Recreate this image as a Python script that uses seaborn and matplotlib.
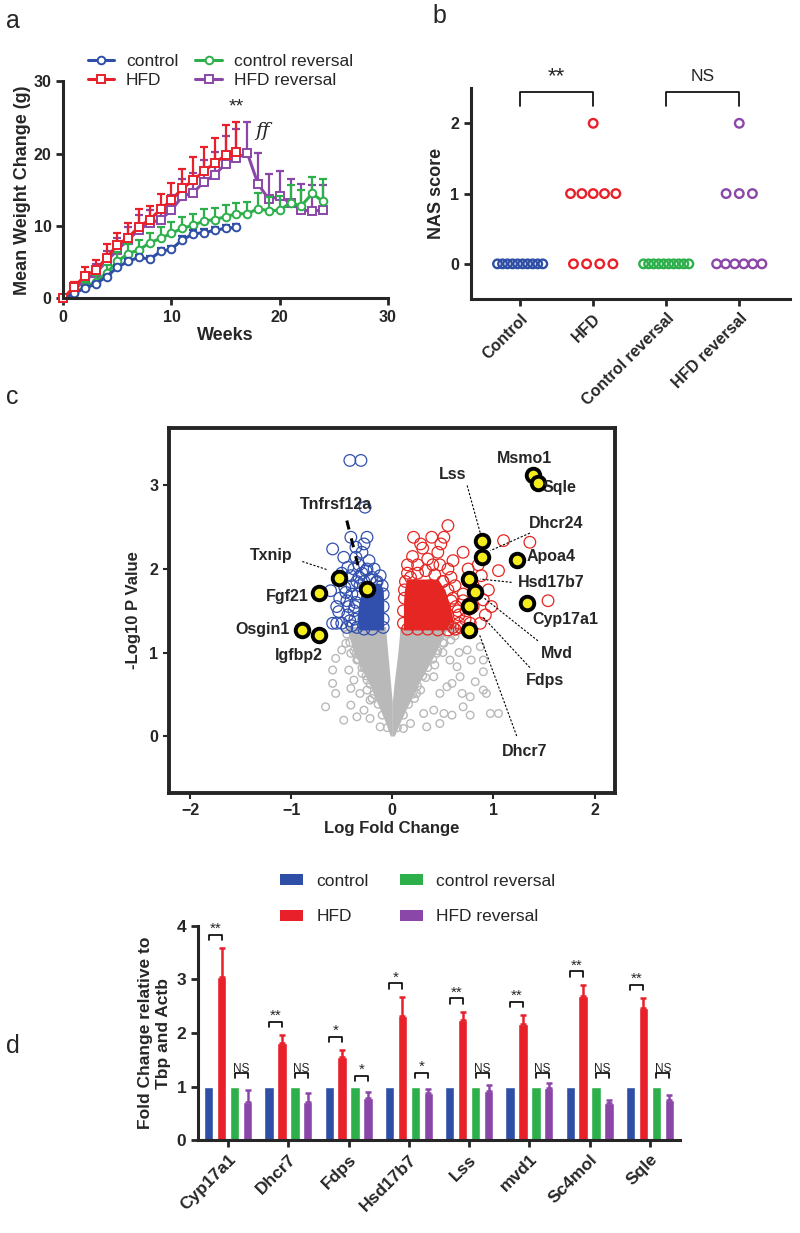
"""
Four-panel figure: weight curves (a), NAS scores (b), volcano plot (c)
and qPCR fold changes (d). Writes out.png.
"""
import matplotlib

matplotlib.use("Agg")
import matplotlib.pyplot as plt
import numpy as np
import pandas as pd
import seaborn as sns
from matplotlib.patches import Patch
from matplotlib.lines import Line2D

# -----------------------------------------------------------------------------
# Data
# -----------------------------------------------------------------------------
GROUPS = ["control", "HFD", "control reversal", "HFD reversal"]
PALETTE = {
    "control": "#2F4FA6",
    "HFD": "#E8202A",
    "control reversal": "#2DB04B",
    "HFD reversal": "#8B47A8",
}

# panel a: mean weight change (g) and SEM per week
WEEKS_SHORT = list(range(17))
WEEKS_LONG = list(range(25))
CONTROL_MEAN = [0, 0.7, 1.4, 2.0, 3.0, 4.3, 5.1, 5.7, 5.4, 6.5, 6.8, 8.1, 8.9, 9.1, 9.4, 9.7, 9.8]
CONTROL_SEM = [0, 0.2, 0.3, 0.3, 0.3, 0.3, 0.3, 0.3, 0.4, 0.4, 0.4, 0.5, 0.5, 0.5, 0.5, 0.5, 0.5]
HFD_MEAN = [0, 1.6, 3.1, 3.9, 5.6, 7.4, 8.4, 9.9, 10.9, 12.3, 13.6, 15.2, 16.3, 17.6, 18.7, 19.8, 20.3]
HFD_SEM = [0, 0.7, 1.3, 1.4, 1.9, 1.7, 2.0, 2.4, 1.9, 2.1, 2.3, 2.7, 3.2, 3.3, 3.5, 4.2, 4.1]
CTRL_REV_MEAN = [0, 0.7, 1.6, 2.3, 3.5, 5.1, 6.2, 6.7, 7.7, 8.3, 9.0, 9.7, 10.1, 10.7, 10.9,
                 11.3, 11.7, 11.7, 12.4, 12.1, 12.2, 13.2, 12.8, 14.5, 13.4]
CTRL_REV_SEM = [0, 0.4, 0.7, 0.9, 1.1, 1.3, 1.3, 1.4, 1.4, 1.5, 1.5, 1.6, 1.6, 1.6, 1.6,
                1.6, 1.5, 1.6, 2.1, 1.9, 2.0, 2.5, 2.2, 2.3, 3.1]
HFD_REV_MEAN = [0, 1.2, 2.5, 3.5, 5.1, 6.7, 8.1, 9.5, 10.4, 10.9, 12.2, 14.1, 14.6, 16.1, 17.1,
                18.6, 19.4, 20.1, 15.8, 13.7, 14.1, 13.2, 12.2, 12.1, 12.2]
HFD_REV_SEM = [0, 0.6, 1.0, 1.2, 1.5, 1.6, 1.8, 2.0, 1.8, 2.0, 2.1, 2.4, 2.8, 3.0, 3.2,
               3.8, 4.0, 4.3, 4.3, 3.5, 3.5, 3.3, 3.6, 3.6, 3.5]

# panel b: number of animals at each NAS score, per group
NAS_GROUPS = ["Control", "HFD", "Control reversal", "HFD reversal"]
NAS_N_SCORE0 = [10, 4, 10, 6]
NAS_N_SCORE1 = [0, 5, 0, 3]
NAS_N_SCORE2 = [0, 1, 0, 1]

# panel c: volcano plot (log fold change, -log10 p)
# dense grey core, read as its outline
CORE_Y = [0.0, 0.2, 0.4, 0.6, 0.8, 1.0, 1.2, 1.31]
CORE_L_OUT = [-0.02, -0.08, -0.15, -0.22, -0.30, -0.38, -0.43, -0.45]
CORE_L_IN = [0.0, 0.0, 0.0, -0.015, -0.03, -0.045, -0.06, -0.065]
CORE_R_IN = [0.0, 0.0, 0.0, 0.015, 0.035, 0.055, 0.07, 0.075]
CORE_R_OUT = [0.02, 0.09, 0.17, 0.25, 0.34, 0.43, 0.51, 0.55]
# dense blue (down) and red (up) cores
DOWN_Y = [1.27, 1.40, 1.60, 1.75, 1.83]
DOWN_L = [-0.33, -0.35, -0.33, -0.30, -0.24]
DOWN_R = [-0.085, -0.085, -0.085, -0.09, -0.12]
UP_Y = [1.27, 1.40, 1.60, 1.75, 1.88]
UP_L = [0.11, 0.11, 0.11, 0.12, 0.14]
UP_R = [0.60, 0.60, 0.56, 0.52, 0.45]
# sparse grey genes
GREY_FC = [-0.59, -0.66, -0.41, -0.56, -0.50, -0.41, -0.35, -0.43, -0.38, -0.32, -0.28, -0.22,
           -0.12, -0.46, -0.35, -0.56, -0.25, -0.22, -0.41, -0.48, -0.35, -0.59, -0.28, -0.22,
           -0.28, 0.44, 0.57, 0.67, 0.77, 0.90, 0.97, 1.05, 0.51, 0.59, 0.77, 0.41, 0.47, 0.41,
           0.90, 0.90, 0.87, 0.54, 0.70, 0.59, 0.64, 0.74, 0.51, 0.34, 0.24, 0.31, 0.18, 0.11,
           0.78, 0.93, 0.69, 0.47, 0.34, 0.62, 0.82, 0.66,
           -0.05, -0.10, -0.14, -0.18, -0.22, -0.26, -0.30, -0.34, -0.38, -0.42, -0.45, -0.47,
           -0.20, -0.25, -0.30, -0.36, 0.05, 0.11, 0.16, 0.20, 0.25, 0.30, 0.35, 0.40, 0.45,
           0.50, 0.55, 0.60, 0.22, 0.28, 0.33, 0.42, 0.50, 0.58, 0.63]
GREY_P = [0.63, 0.35, 0.37, 0.93, 1.03, 0.99, 0.91, 0.79, 0.67, 0.51, 0.31, 0.21,
          0.11, 1.11, 1.15, 0.51, 0.67, 0.43, 0.57, 0.19, 0.23, 0.79, 0.83, 0.99,
          1.07, 0.99, 0.91, 0.71, 0.47, 0.55, 0.27, 0.27, 0.27, 0.25, 0.25, 0.31, 0.51, 0.71,
          0.91, 0.77, 1.07, 0.59, 0.35, 0.63, 0.83, 1.03, 1.11, 0.91, 0.51, 0.27, 0.15, 0.09,
          0.91, 0.51, 0.51, 0.15, 0.11, 1.20, 0.65, 1.00,
          0.10, 0.25, 0.38, 0.50, 0.62, 0.72, 0.82, 0.92, 1.02, 1.12, 1.22, 1.30,
          0.45, 0.55, 0.75, 0.98, 0.10, 0.25, 0.38, 0.50, 0.60, 0.72, 0.82, 0.92, 1.02,
          1.12, 1.22, 1.30, 0.45, 0.55, 0.70, 0.85, 1.00, 1.15, 1.25]
DOWN_FC = [-0.42, -0.31, -0.27, -0.41, -0.25, -0.36, -0.59, -0.48, -0.36, -0.23, -0.30, -0.61,
           -0.59, -0.50, -0.53, -0.45, -0.41, -0.35, -0.38, -0.44, -0.47, -0.40, -0.37, -0.44,
           -0.40, -0.30, -0.26, -0.20, -0.16, -0.50, -0.55, -0.33, -0.28, -0.45,
           -0.35, -0.37, -0.38, -0.36, -0.34, -0.32, -0.28, -0.22, -0.15, -0.10, -0.09, -0.09,
           -0.09, -0.09, -0.20, -0.28, -0.42, -0.43, -0.46, -0.40, -0.33, -0.55, -0.52, -0.25,
           -0.18, -0.12]
DOWN_P = [3.30, 3.30, 2.74, 2.38, 2.38, 2.26, 2.24, 2.14, 2.14, 2.10, 2.20, 1.74,
          1.35, 1.35, 1.49, 1.62, 1.92, 1.85, 2.00, 2.02, 1.78, 1.70, 1.55, 1.45,
          1.32, 1.95, 1.98, 1.90, 1.84, 1.95, 1.55, 2.05, 2.30, 1.30,
          1.30, 1.40, 1.50, 1.60, 1.70, 1.80, 1.85, 1.88, 1.85, 1.80, 1.70, 1.55,
          1.40, 1.30, 1.28, 1.28, 1.38, 1.55, 1.72, 1.80, 1.90, 1.35, 1.65, 2.00,
          2.00, 1.92]
UP_FC = [0.55, 0.39, 0.21, 0.51, 1.10, 1.36, 1.05, 1.54, 0.70, 0.98, 0.90, 0.87, 0.30, 0.45,
         0.60, 0.75, 0.80, 0.70, 0.65, 0.72, 0.68, 0.80, 0.92, 0.85, 0.55, 0.35, 0.20, 0.25,
         0.50, 0.62, 0.15, 0.95, 0.60, 0.75, 0.28, 0.48, 0.58, 0.88,
         0.13, 0.18, 0.25, 0.33, 0.42, 0.50, 0.55, 0.60, 0.63, 0.66, 0.66, 0.62, 0.55, 0.45,
         0.35, 0.25, 0.15, 0.11, 0.11, 0.12, 0.12, 0.40, 0.30, 0.45, 0.52, 0.38, 0.22, 0.28,
         0.70, 0.73, 0.77, 0.58, 0.47, 0.15, 0.40]
UP_P = [2.52, 2.38, 2.38, 2.38, 2.34, 2.32, 1.98, 1.62, 2.20, 1.55, 1.63, 1.35, 2.25, 2.20,
        2.10, 2.00, 1.80, 1.70, 1.50, 1.40, 1.30, 1.55, 1.45, 2.05, 2.00, 2.12, 2.15, 2.05,
        1.85, 1.80, 1.95, 1.75, 1.30, 1.85, 2.30, 2.30, 1.62, 1.92,
        1.85, 1.90, 1.95, 1.98, 1.93, 1.85, 1.75, 1.65, 1.55, 1.45, 1.35, 1.28, 1.27, 1.27,
        1.28, 1.28, 1.28, 1.35, 1.50, 1.65, 1.75, 1.60, 1.70, 1.45, 1.40, 1.80, 1.80, 1.50,
        1.62, 1.50, 1.35, 1.90, 2.05, 2.05, 2.05]
# highlighted genes
HIT_GENES = ["Msmo1", "Sqle", "Lss", "Dhcr24", "Apoa4", "Hsd17b7", "Mvd", "Cyp17a1", "Fdps",
             "Dhcr7", "Txnip", "Fgf21", "Tnfrsf12a", "Osgin1", "Igfbp2"]
HIT_FC = [1.39, 1.44, 0.89, 0.89, 1.23, 0.76, 0.82, 1.33, 0.76, 0.76, -0.53, -0.72, -0.25,
          -0.89, -0.72]
HIT_P = [3.12, 3.03, 2.33, 2.14, 2.11, 1.88, 1.72, 1.59, 1.56, 1.27, 1.89, 1.71, 1.76,
         1.27, 1.21]

# panel d: qPCR fold change relative to Tbp and Actb
GENES_D = ["Cyp17a1", "Dhcr7", "Fdps", "Hsd17b7", "Lss", "mvd1", "Sc4mol", "Sqle"]
FC_CONTROL = [1, 1, 1, 1, 1, 1, 1, 1]
FC_HFD = [3.05, 1.82, 1.55, 2.31, 2.24, 2.17, 2.70, 2.46]
FC_HFD_ERR = [0.53, 0.14, 0.13, 0.37, 0.16, 0.16, 0.20, 0.19]
FC_CTRL_REV = [1, 1, 1, 1, 1, 1, 1, 1]
FC_HFD_REV = [0.72, 0.72, 0.79, 0.88, 0.91, 0.97, 0.69, 0.74]
FC_HFD_REV_ERR = [0.21, 0.16, 0.11, 0.07, 0.12, 0.10, 0.05, 0.10]
SIG_HFD = ["**", "**", "*", "*", "**", "**", "**", "**"]
SIG_REV = ["NS", "NS", "*", "*", "NS", "NS", "NS", "NS"]

# -----------------------------------------------------------------------------
# Style
# -----------------------------------------------------------------------------
sns.set_style("ticks")
plt.rcParams["font.family"] = ["Liberation Sans", "DejaVu Sans"]
plt.rcParams["axes.linewidth"] = 2.2
plt.rcParams["xtick.major.width"] = 2
plt.rcParams["ytick.major.width"] = 2
plt.rcParams["xtick.major.size"] = 5
plt.rcParams["ytick.major.size"] = 5


def _bold_ticks(ax, size=11):
    for lab in ax.get_xticklabels() + ax.get_yticklabels():
        lab.set_fontweight("bold")
        lab.set_fontsize(size)


def _bracket(ax, x0, x1, y, leg, text, fs, pad, **kw):
    ax.plot([x0, x0, x1, x1], [y - leg, y, y, y - leg], color="black", lw=1.2,
             clip_on=False, **kw)
    ax.text((x0 + x1) / 2, y + pad, text, ha="center", va="bottom", fontsize=fs,
            clip_on=False)


fig = plt.figure(figsize=(8, 12.33), dpi=100)

# -----------------------------------------------------------------------------
# a. weight curves
# -----------------------------------------------------------------------------
ax = fig.add_axes([0.079, 0.758, 0.406, 0.176])
series = {
    "control": (WEEKS_SHORT, CONTROL_MEAN, CONTROL_SEM, "o"),
    "HFD": (WEEKS_SHORT, HFD_MEAN, HFD_SEM, "s"),
    "control reversal": (WEEKS_LONG, CTRL_REV_MEAN, CTRL_REV_SEM, "o"),
    "HFD reversal": (WEEKS_LONG, HFD_REV_MEAN, HFD_REV_SEM, "s"),
}
for name in ["HFD reversal", "control reversal", "control", "HFD"]:
    wk, mean, sem, mk = series[name]
    col = PALETTE[name]
    ax.errorbar(wk, mean, yerr=[np.zeros(len(sem)), sem], fmt="none", ecolor=col,
                elinewidth=1.6, capsize=3, capthick=1.6, clip_on=False)
    sns.lineplot(x=wk, y=mean, ax=ax, color=col, lw=2.2, marker=mk, markersize=5.5,
                 markerfacecolor="white", markeredgecolor=col, markeredgewidth=1.4,
                 clip_on=False, legend=False)
handles = [
    Line2D([], [], color=PALETTE[g], lw=2.2, marker=series[g][3], markersize=5.5,
           markerfacecolor="white", markeredgecolor=PALETTE[g], markeredgewidth=1.4)
    for g in GROUPS
]
ax.legend(handles, GROUPS, ncol=2, loc="upper left", bbox_to_anchor=(0.075, 1.125),
          frameon=False, fontsize=12.5, handlelength=1.5, handletextpad=0.7,
          columnspacing=1.0, labelspacing=0.22, borderpad=0, borderaxespad=0)
ax.text(16, 25.3, "**", ha="center", va="bottom", fontsize=14)
ax.text(17.7, 23.2, "ff", ha="left", va="center", fontsize=14, style="italic",
        family="DejaVu Serif")
ax.set_xlim(0, 30)
ax.set_ylim(0, 30)
ax.set_xticks([0, 10, 20, 30])
ax.set_yticks([0, 10, 20, 30])
ax.set_xlabel("Weeks", fontsize=13, fontweight="bold", labelpad=1)
ax.set_ylabel("Mean Weight Change (g)", fontsize=13, fontweight="bold", labelpad=2)
sns.despine(ax=ax)
_bold_ticks(ax, 11.5)

# -----------------------------------------------------------------------------
# b. NAS score
# -----------------------------------------------------------------------------
ax = fig.add_axes([0.589, 0.7575, 0.399, 0.171])
rows = []
for gi, grp in enumerate(NAS_GROUPS):
    for score, counts in enumerate([NAS_N_SCORE0, NAS_N_SCORE1, NAS_N_SCORE2]):
        n = counts[gi]
        step = min(0.18, 0.62 / max(n - 1, 1))
        for k in range(n):
            rows.append({"group": GROUPS[gi], "x": gi + (k - (n - 1) / 2) * step,
                         "score": score})
nas = pd.DataFrame(rows)
for grp in GROUPS:
    sub = nas[nas["group"] == grp]
    sns.scatterplot(data=sub, x="x", y="score", ax=ax, s=38, facecolor="none",
                    edgecolor=PALETTE[grp], linewidth=1.7, legend=False)
_bracket(ax, 0, 1, 2.44, 0.19, "**", 16, 0.08)
_bracket(ax, 2, 3, 2.44, 0.19, "NS", 12.5, 0.12)
ax.set_xlim(-0.67, 3.7)
ax.set_ylim(-0.5, 2.5)
ax.set_yticks([0, 1, 2])
ax.set_xticks(range(4))
ax.set_xticklabels(NAS_GROUPS, rotation=45, ha="right", rotation_mode="anchor")
ax.set_xlabel("")
ax.set_ylabel("NAS score", fontsize=13, fontweight="bold")
sns.despine(ax=ax)
_bold_ticks(ax, 11.5)

# -----------------------------------------------------------------------------
# c. volcano
# -----------------------------------------------------------------------------
GREY = "#B9B9B9"
BLUE_V = "#3150AE"
RED_V = "#E52622"
ax = fig.add_axes([0.211, 0.357, 0.5575, 0.296])
ax.fill_betweenx(CORE_Y, CORE_L_OUT, CORE_L_IN, color=GREY, lw=0)
ax.fill_betweenx(CORE_Y, CORE_R_IN, CORE_R_OUT, color=GREY, lw=0)
ax.fill_betweenx(DOWN_Y, DOWN_L, DOWN_R, color=BLUE_V, lw=0)
ax.fill_betweenx(UP_Y, UP_L, UP_R, color=RED_V, lw=0)
sns.scatterplot(x=GREY_FC, y=GREY_P, ax=ax, s=30, facecolor="none", edgecolor=GREY,
                linewidth=1.0, legend=False)
sns.scatterplot(x=DOWN_FC, y=DOWN_P, ax=ax, s=70, facecolor="none", edgecolor=BLUE_V,
                linewidth=0.9, legend=False)
sns.scatterplot(x=UP_FC, y=UP_P, ax=ax, s=70, facecolor="none", edgecolor=RED_V,
                linewidth=0.9, legend=False)

# label placement: (text x, text y, ha, leader line start, leader line end)
LABELS = {
    "Msmo1": (1.31, 3.32, "center", None),
    "Sqle": (1.49, 2.98, "left", None),
    "Lss": (0.60, 3.13, "center", ((0.74, 3.0), (0.87, 2.43))),
    "Dhcr24": (1.62, 2.54, "center", ((1.36, 2.43), (0.97, 2.22))),
    "Apoa4": (1.33, 2.15, "left", None),
    "Hsd17b7": (1.57, 1.84, "center", ((1.18, 1.84), (0.87, 1.88))),
    "Mvd": (1.63, 0.99, "center", ((1.44, 1.14), (0.90, 1.66))),
    "Cyp17a1": (1.71, 1.40, "center", None),
    "Fdps": (1.51, 0.66, "center", ((1.36, 0.82), (0.90, 1.42))),
    "Dhcr7": (1.31, -0.19, "center", ((1.23, 0.0), (0.86, 1.22))),
    "Txnip": (-1.20, 2.16, "center", ((-0.89, 2.09), (-0.64, 1.99))),
    "Fgf21": (-1.04, 1.67, "center", None),
    "Tnfrsf12a": (-0.56, 2.77, "center", ((-0.45, 2.58), (-0.32, 1.95))),
    "Osgin1": (-1.28, 1.27, "center", None),
    "Igfbp2": (-0.92, 0.97, "center", None),
}
for gene in HIT_GENES:
    tx, ty, ha, leader = LABELS[gene]
    if leader is not None:
        (x0, y0), (x1, y1) = leader
        thick = gene == "Tnfrsf12a"
        ax.plot([x0, x1], [y0, y1], color="black", lw=2.2 if thick else 0.8,
                ls=(0, (3, 3)) if thick else (0, (2, 1.5)), zorder=4)
sns.scatterplot(x=HIT_FC, y=HIT_P, ax=ax, s=95, color="#F4EC1C", edgecolor="black",
                linewidth=2.8, legend=False, zorder=6)
for gene in HIT_GENES:
    tx, ty, ha, _ = LABELS[gene]
    ax.text(tx, ty, gene, ha=ha, va="center", fontsize=11.5, fontweight="bold", zorder=7)
ax.set_xlim(-2.21, 2.2)
ax.set_ylim(-0.68, 3.69)
ax.set_xticks([-2, -1, 0, 1, 2])
ax.set_yticks([0, 1, 2, 3])
ax.tick_params(length=4, width=1.5)
for sp in ax.spines.values():
    sp.set_linewidth(2.8)
ax.set_xlabel("Log Fold Change", fontsize=12, fontweight="bold", labelpad=2)
ax.set_ylabel("-Log10 P Value", fontsize=12, fontweight="bold", labelpad=6)
_bold_ticks(ax, 11.5)

# -----------------------------------------------------------------------------
# d. qPCR bars
# -----------------------------------------------------------------------------
ax = fig.add_axes([0.2475, 0.0754, 0.6025, 0.1736])
qpcr = pd.DataFrame({
    "gene": GENES_D * 4,
    "group": [g for g in GROUPS for _ in GENES_D],
    "fc": FC_CONTROL + FC_HFD + FC_CTRL_REV + FC_HFD_REV,
})
sns.barplot(data=qpcr, x="gene", y="fc", hue="group", hue_order=GROUPS, palette=PALETTE,
            width=0.86, gap=0.28, errorbar=None, ax=ax, saturation=1, legend=False)
centers = {}
for grp, cont in zip(GROUPS, ax.containers):
    centers[grp] = [b.get_x() + b.get_width() / 2 for b in cont]
for grp, vals, err in [("HFD", FC_HFD, FC_HFD_ERR), ("HFD reversal", FC_HFD_REV, FC_HFD_REV_ERR)]:
    ax.errorbar(centers[grp], vals, yerr=[np.zeros(len(err)), err], fmt="none",
                ecolor=PALETTE[grp], elinewidth=1.8, capsize=2.5, capthick=1.8)
for i in range(len(GENES_D)):
    top_hfd = FC_HFD[i] + FC_HFD_ERR[i] + 0.25
    _bracket(ax, centers["control"][i], centers["HFD"][i], top_hfd, 0.1, SIG_HFD[i],
             11, -0.02)
    rev_y = 1.2 if i == 2 else 1.26
    _bracket(ax, centers["control reversal"][i], centers["HFD reversal"][i], rev_y, 0.1,
             SIG_REV[i], 8.5 if SIG_REV[i] == "NS" else 11,
             -0.05 if SIG_REV[i] == "NS" else -0.02)
leg_handles = [Patch(facecolor=PALETTE[g], edgecolor="none") for g in GROUPS]
ax.legend(leg_handles, GROUPS, ncol=2, loc="upper left", bbox_to_anchor=(0.17, 1.245),
          frameon=False, fontsize=12.5, handlelength=1.3, handleheight=0.6,
          handletextpad=0.8, columnspacing=1.8, labelspacing=1.2, borderpad=0,
          borderaxespad=0)
ax.set_xlim(-0.5, 7.5)
ax.set_ylim(0, 4)
ax.set_yticks([0, 1, 2, 3, 4])
ax.set_xticks(range(len(GENES_D)))
ax.set_xticklabels(GENES_D, rotation=45, ha="right", rotation_mode="anchor")
ax.set_xlabel("")
ax.set_ylabel("Fold Change relative to\nTbp and Actb", fontsize=12.5, fontweight="bold")
sns.despine(ax=ax)
_bold_ticks(ax, 12.5)

# -----------------------------------------------------------------------------
# panel letters
# -----------------------------------------------------------------------------
for letter, (x, y) in {"a": (0.008, 0.983), "b": (0.54, 0.987),
                       "c": (0.008, 0.678), "d": (0.008, 0.152)}.items():
    fig.text(x, y, letter, fontsize=18, ha="left", va="center")

fig.savefig("out.png", dpi=100, facecolor="white")
